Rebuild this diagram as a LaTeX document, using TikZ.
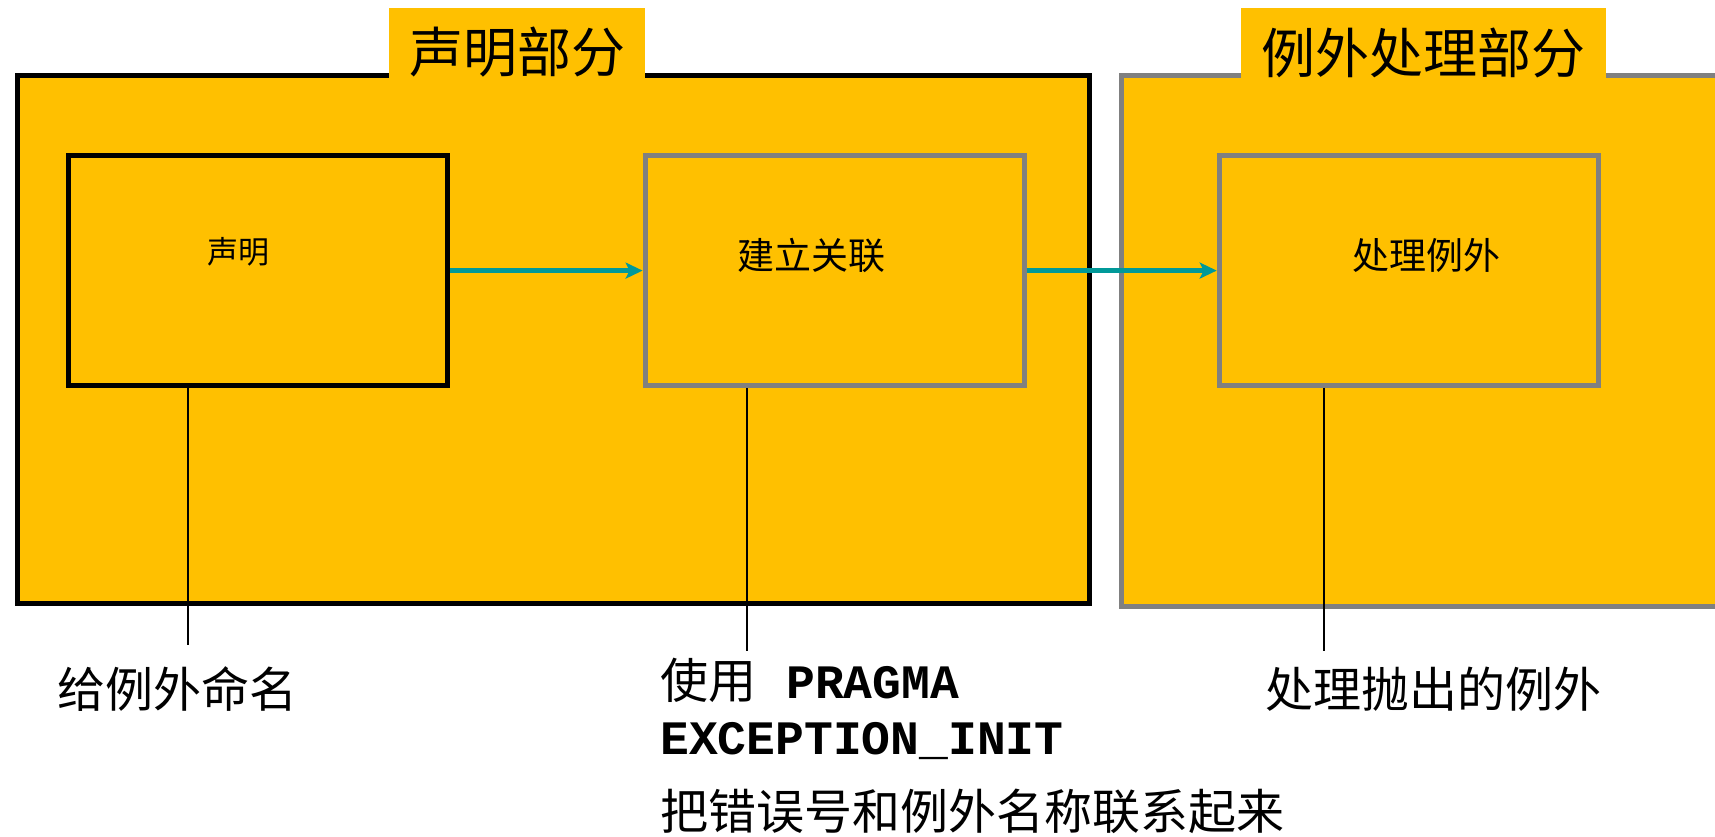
\documentclass[tikz,border=0pt]{standalone}
\usepackage{fontspec}
\setmainfont{Liberation Serif}
\newfontfamily\cjk{Noto Sans CJK SC}
\newfontfamily\monob{Liberation Mono}
\usetikzlibrary{arrows.meta}
\definecolor{boxyellow}{HTML}{FFC000}
\definecolor{arrowteal}{HTML}{009999}
\definecolor{bordergray}{HTML}{808080}
\tikzset{
  outerbox/.style={rectangle, fill=boxyellow, line width=5pt, inner sep=0pt},
  innerbox/.style={rectangle, fill=boxyellow, line width=5pt, inner sep=0pt,
                   minimum width=379pt, minimum height=230pt},
  tabfill/.style={fill=boxyellow},
  titletext/.style={font=\cjk\fontsize{54}{60}\selectfont, inner sep=0pt},
  boxtext/.style={font=\cjk\fontsize{37}{42}\selectfont, inner sep=0pt},
  labeltext/.style={font=\cjk\fontsize{48}{56}\selectfont, inner sep=0pt, anchor=base west},
  monotext/.style={font=\monob\bfseries\fontsize{48}{56}\selectfont},
  flowarrow/.style={draw=arrowteal, line width=4.5pt, -{Stealth[length=17pt,width=16pt,inset=4pt]}},
  callout/.style={draw=black, line width=2pt}
}
\begin{document}
\begin{tikzpicture}[x=1pt,y=-1pt]
\useasboundingbox (0,0) rectangle (1715,837);
\clip (0,0) rectangle (1715,837);

% outer sections
\node[outerbox, draw=black, minimum width=1072pt, minimum height=528pt] (outerL) at (553.1,339.9) {};
\node[outerbox, draw=bordergray, minimum width=640pt, minimum height=531pt] (outerR) at (1441.4,340.8) {};

% title tabs
\fill[tabfill] (388.8,8) rectangle (645,78.5);
\fill[tabfill] (1240.8,8) rectangle (1606.4,78);
\node[titletext] (t1) at (517,52) {声明部分};
\node[titletext] (t2) at (1423.6,52.5) {例外处理部分};

% inner boxes
\node[innerbox, draw=black] (b1) at (258.2,270.6) {};
\node[innerbox, draw=bordergray] (b2) at (834.6,270.6) {};
\node[innerbox, draw=bordergray] (b3) at (1408.7,270.6) {};

\node[boxtext, font=\cjk\fontsize{31}{36}\selectfont] (l1) at (238,252) {声明};
\node[boxtext] (l2) at (811,255) {建立关联};
\node[boxtext] (l3) at (1426,255) {处理例外};

% arrows
\draw[flowarrow] (b1.east) -- (b2.west);
\draw[flowarrow] (b2.east) -- (b3.west);

% callout lines
\coordinate (c1) at (188,645);
\coordinate (c2) at (747,651);
\coordinate (c3) at (1323.8,651);
\draw[callout] (b1.south -| c1) -- (c1);
\draw[callout] (b2.south -| c2) -- (c2);
\draw[callout] (b3.south -| c3) -- (c3);

% labels
\node[labeltext] (n1) at (57,707) {给例外命名};
\node[labeltext] (n2a) at (660,698) {使用\hspace{30pt}{\monob\bfseries PRAGMA}};
\node[monotext, inner sep=0pt, anchor=base west] (n2b) at (660,754) {EXCEPTION\_INIT};
\node[labeltext] (n2c) at (660,829) {把错误号和例外名称联系起来};
\node[labeltext] (n3) at (1265,707) {处理抛出的例外};
\end{tikzpicture}
\end{document}
